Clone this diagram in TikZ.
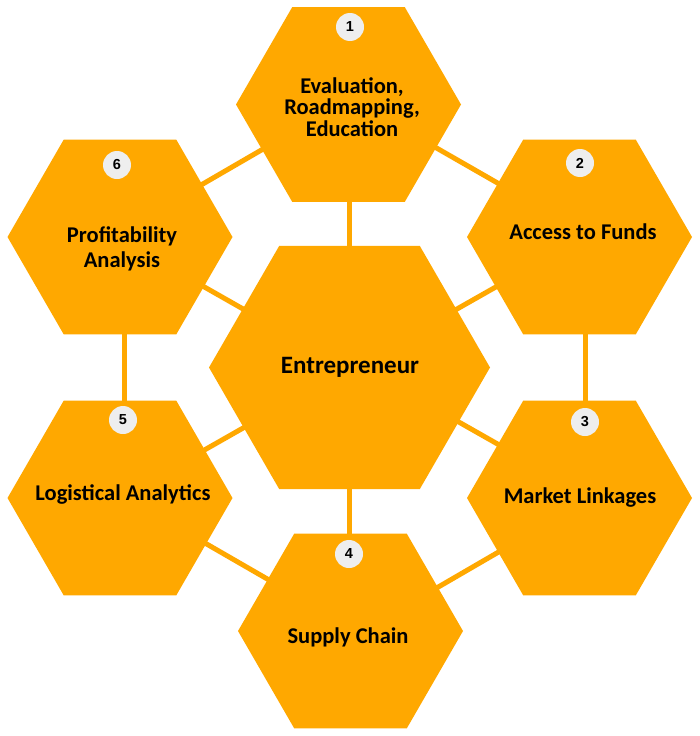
\documentclass[tikz,border=0pt]{standalone}
\usepackage{fontspec}
\setmainfont{Carlito}
\newfontfamily\numfont{Liberation Sans}
\usetikzlibrary{shapes.geometric,backgrounds}
\definecolor{hexorange}{RGB}{255,168,0}
\definecolor{badgegray}{RGB}{238,238,238}
\begin{document}
\begin{tikzpicture}[x=1pt,y=-1pt,
  hexa/.style={regular polygon,regular polygon sides=6,minimum size=225pt,inner sep=0pt,outer sep=0pt,fill=hexorange,draw=none},
  link/.style={draw=hexorange,line width=5pt},
  lbl/.style={font=\bfseries\fontsize{22.5}{21.5}\selectfont,align=center,text=black,inner sep=0pt},
  badgec/.style={circle,fill=badgegray,minimum size=28pt,inner sep=0pt,text=black,font=\numfont\bfseries\fontsize{14.5}{14.5}\selectfont}]
\useasboundingbox (0,0) rectangle (700,736);
% hexagons
\node[hexa] (h1) at (348.5,104.5) {};
\node[hexa] (h2) at (579.5,237) {};
\node[hexa] (h3) at (579.5,498) {};
\node[hexa] (h4) at (350.5,631) {};
\node[hexa] (h5) at (120,498) {};
\node[hexa] (h6) at (120,237) {};
\node[hexa,minimum size=281pt] (hc) at (349.5,367.5) {};
% connectors
\begin{scope}[on background layer]
\fill[white] (0,0) rectangle (700,736);
\draw[link] (hc.center) -- (hc.center |- h1.center);
\draw[link] (hc.center) -- (hc.center |- h4.center);
\draw[link] ([xshift=4pt]h6.center) -- ([xshift=4pt]h5.center);
\draw[link] ([xshift=5.5pt]h2.center) -- ([xshift=5.5pt]h3.center);
\draw[link] ([yshift=5pt]h6.center) -- ([yshift=5pt]h1.center);
\draw[link] ([yshift=7pt]h1.center) -- ([yshift=7pt]h2.center);
\draw[link] ([yshift=-2pt]h6.center) -- ([yshift=-2pt]hc.center);
\draw[link] ([yshift=-2.5pt]h2.center) -- ([yshift=-2.5pt]hc.center);
\draw[link] (hc.center) -- (h5.center);
\draw[link] ([yshift=7.5pt]hc.center) -- ([yshift=7.5pt]h3.center);
\draw[link] ([yshift=4pt]h5.center) -- ([yshift=4pt]h4.center);
\draw[link] ([yshift=-7pt]h3.center) -- ([yshift=-7pt]h4.center);
\end{scope}
% labels
\node[lbl] (l1) at (352,107) {Evaluation,\\Roadmapping,\\Education};
\node[lbl] (l2) at (583,232) {Access to Funds};
\node[lbl] (l3) at (580,498) {Market Linkages};
\node[lbl] (l4) at (348,637) {Supply Chain};
\node[lbl] (l5) at (123,494) {Logistical Analytics};
\node[lbl,font=\bfseries\fontsize{22.5}{24.5}\selectfont] (l6) at (122,249) {Profitability\\Analysis};
\node[lbl,font=\bfseries\fontsize{25}{27}\selectfont] (lc) at (350,367) {Entrepreneur};
% badges
\node[badgec] (b1) at (350,27) {1};
\node[badgec] (b2) at (580,163) {2};
\node[badgec] (b3) at (585,422) {3};
\node[badgec] (b4) at (349,554) {4};
\node[badgec] (b5) at (123,420) {5};
\node[badgec] (b6) at (117,165) {6};
\end{tikzpicture}
\end{document}
